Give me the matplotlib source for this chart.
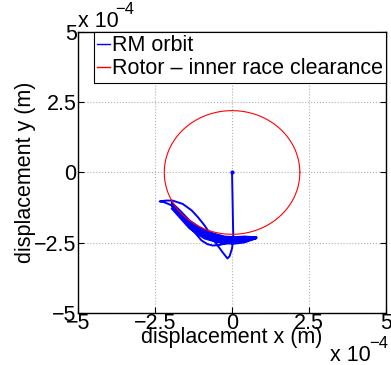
import numpy as np
import matplotlib
matplotlib.use('Agg')
import matplotlib.pyplot as plt

plt.rcParams['font.family'] = ['Liberation Sans', 'DejaVu Sans']

# orbit of the rotor mass centre, units of 1e-4 m
orbit_x = [0.0, 0.01, 0.02, 0.03, 0.04, 0.0, -0.08, -0.15, -0.3, -0.5, -0.63, -0.89, -1.1, -1.31, -1.6, -1.93,
           -2.15, -2.35, -2.2, -1.96, -1.7, -1.4, -1.2, -0.99, -0.8, -0.63, -0.4, -0.15, 0.0, 0.3, 0.6, 0.79,
           # band passes
           0.4, 0.1, -0.24, -0.55, -0.89, -1.1, -1.38, -1.65, -1.96,
           -1.65, -1.38, -1.1, -0.89, -0.55, -0.24, 0.1, 0.4, 0.79,
           0.4, 0.1, -0.24, -0.55, -0.89, -1.1, -1.38, -1.65, -1.96,
           -1.65, -1.38, -1.1, -0.89, -0.55, -0.24, 0.1, 0.4, 0.79,
           0.4, 0.1, -0.24, -0.55, -0.89, -1.1, -1.38, -1.65, -1.96,
           -1.65, -1.38, -1.1, -0.89, -0.55, -0.24, 0.1, 0.4, 0.6]
orbit_y = [0.0, -0.6, -1.2, -1.8, -2.3, -2.7, -2.98, -3.06, -2.85, -2.55, -2.31, -1.89, -1.6, -1.35, -1.12, -1.0,
           -1.0, -1.03, -1.06, -1.17, -1.5, -1.9, -2.15, -2.42, -2.55, -2.6, -2.58, -2.5, -2.42, -2.35, -2.3, -2.31,
           -2.28, -2.30, -2.28, -2.19, -2.06, -1.92, -1.71, -1.40, -1.07,
           -1.47, -1.78, -1.99, -2.13, -2.26, -2.34, -2.36, -2.33, -2.32,
           -2.38, -2.41, -2.40, -2.32, -2.20, -2.06, -1.85, -1.53, -1.18,
           -1.60, -1.92, -2.13, -2.28, -2.39, -2.47, -2.47, -2.44, -2.34,
           -2.49, -2.53, -2.53, -2.46, -2.35, -2.20, -1.99, -1.66, -1.28,
           -1.55, -1.85, -2.05, -2.2, -2.33, -2.42, -2.44, -2.41, -2.36]

clearance = 2.2  # rotor - inner race clearance radius, 1e-4 m
theta = np.linspace(0, 2 * np.pi, 400)

ticks = [-5, -2.5, 0, 2.5, 5]
tick_labels = ['\u22125', '\u22122.5', '0', '2.5', '5']

fs = 15.5
fig = plt.figure(figsize=(3.91, 3.65), dpi=100)
ax = fig.add_axes([0.1995, 0.1425, 0.788, 0.770])

ax.plot(orbit_x, orbit_y, color='blue', lw=1.4, label='RM orbit')
ax.plot([orbit_x[0]], [orbit_y[0]], 'o', color='blue', ms=2)
ax.plot(clearance * np.cos(theta), clearance * np.sin(theta), color='red', lw=0.8,
        label='Rotor \u2013 inner race clearance')

ax.set_xlim(-5, 5)
ax.set_ylim(-5, 5)
ax.set_xticks(ticks)
ax.set_yticks(ticks)
ax.set_xticklabels(tick_labels, fontsize=fs)
ax.set_yticklabels(tick_labels, fontsize=fs)
ax.tick_params(direction='in', top=True, right=True, length=4, width=0.8, pad=1)
ax.tick_params(axis='x', pad=0)
ax.grid(True, color='#b0b0b0', ls=':', lw=0.8)
for s in ax.spines.values():
    s.set_linewidth(1.0)

ax.set_xlabel('displacement x (m)', fontsize=fs, labelpad=-5)
ax.set_ylabel('displacement y (m)', fontsize=fs, labelpad=-1)

# "x 10^-4" scale notes, MATLAB style
fig.text(0.1995, 0.926, 'x 10', fontsize=fs, ha='left', va='baseline')
fig.text(0.294, 0.962, '\u22124', fontsize=12, ha='left', va='baseline')
fig.text(0.844, 0.010, 'x 10', fontsize=fs, ha='left', va='baseline')
fig.text(0.945, 0.046, '\u22124', fontsize=12, ha='left', va='baseline')

leg = ax.legend(loc='upper right', fontsize=fs, handlelength=0.6, handletextpad=0.1,
                borderaxespad=0, borderpad=0.15, labelspacing=0.1, fancybox=False,
                framealpha=1, edgecolor='black')
leg.get_frame().set_linewidth(0.8)
for h in leg.get_lines():
    h.set_linewidth(1.0)

fig.savefig('out.png', dpi=100)
